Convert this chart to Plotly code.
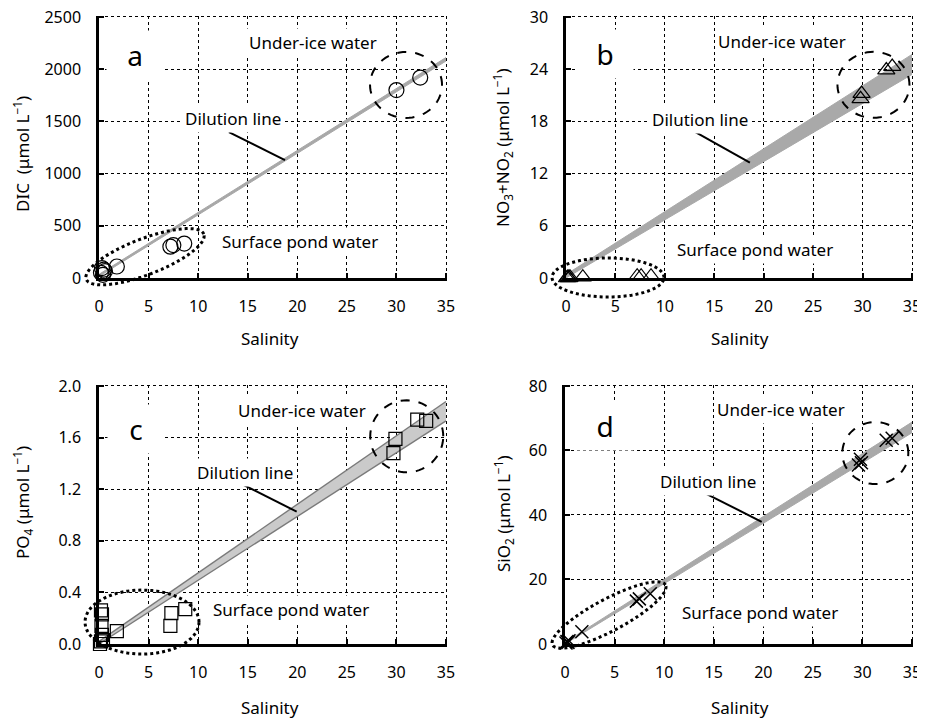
import math
import plotly.graph_objects as go

FONT = "Noto Sans"

# ---------------- data ----------------
salinity_ticks = [0, 5, 10, 15, 20, 25, 30, 35]

# panel a: DIC
a_x = [0.2, 0.3, 0.4, 0.6, 0.5, 1.8, 7.2, 7.5, 8.6, 30.0, 32.4]
a_y = [50, 95, 30, 65, 80, 110, 300, 315, 330, 1800, 1920]
a_dil_x = [0, 35]
a_dil_lo = [15, 2078]
a_dil_hi = [35, 2112]
a_yticks = [0, 500, 1000, 1500, 2000, 2500]

# panel b: NO3+NO2
b_x = [0.1, 0.2, 0.3, 0.4, 1.7, 7.2, 7.6, 8.6, 29.8, 29.9, 32.4, 33.0]
b_y = [0.0, 0.1, 0.0, 0.1, 0.1, 0.2, 0.2, 0.2, 20.6, 21.2, 23.9, 24.3]
b_dil_x = [0, 35]
b_dil_lo = [0.0, 23.4]
b_dil_hi = [0.4, 25.7]
b_yticks = [0, 6, 12, 18, 24, 30]

# panel c: PO4
c_x = [0.2, 0.3, 0.25, 0.3, 0.2, 0.4, 0.1, 1.8, 7.3, 7.2, 8.7, 29.9, 29.7, 32.1, 33.0]
c_y = [0.26, 0.23, 0.14, 0.07, 0.02, 0.03, 0.0, 0.10, 0.24, 0.14, 0.27, 1.59, 1.48, 1.74, 1.73]
c_dil_x = [0, 35]
c_dil_lo = [0.0, 1.73]
c_dil_hi = [0.02, 1.88]
c_yticks = [0.0, 0.4, 0.8, 1.2, 1.6, 2.0]
c_yticklabels = ["0.0", "0.4", "0.8", "1.2", "1.6", "2.0"]

# panel d: SiO2
d_x = [0.1, 0.2, 0.3, 0.4, 1.7, 7.2, 7.5, 8.6, 29.6, 29.8, 29.9, 32.4, 33.0]
d_y = [0.3, 0.8, 0.5, 1.0, 3.8, 13.3, 14.0, 15.6, 55.5, 57.3, 56.2, 63.2, 63.8]
d_dil_x = [0, 35]
d_dil_lo = [0.0, 65.5]
d_dil_hi = [0.5, 68.8]
d_yticks = [0, 20, 40, 60, 80]

# page offset (browser body margin) and figure size
OFF = 8
W, H = 925 - OFF, 719 - OFF
PAD = 1.004  # tiny headroom so the top grid line is kept
# panel pixel boxes in window pixels (left, right, top, bottom) for range [0, max]
boxes = {
    "a": (99, 446, 17, 278),
    "b": (566, 912, 17, 278),
    "c": (99, 446, 386, 644),
    "d": (565, 912, 386, 644),
}
yranges = {"a": (0, 2500), "b": (0, 30), "c": (0, 2.0), "d": (0, 80)}

def px2paper(xp, yp):
    return (xp - OFF) / W, 1 - (yp - OFF) / H

fig = go.Figure()
axis_ids = {"a": ("x", "y"), "b": ("x2", "y2"), "c": ("x3", "y3"), "d": ("x4", "y4")}

def add_band(p, xs, lo, hi, fill, edge, ew):
    xa, ya = axis_ids[p]
    fig.add_trace(go.Scatter(x=xs, y=lo, mode="lines", line=dict(color=edge, width=ew),
                             xaxis=xa, yaxis=ya, showlegend=False, hoverinfo="skip"))
    fig.add_trace(go.Scatter(x=xs, y=hi, mode="lines", line=dict(color=edge, width=ew),
                             fill="tonexty", fillcolor=fill,
                             xaxis=xa, yaxis=ya, showlegend=False, hoverinfo="skip"))

add_band("a", a_dil_x, a_dil_lo, a_dil_hi, "#a8a8a8", "#a8a8a8", 1)
add_band("b", b_dil_x, b_dil_lo, b_dil_hi, "#a9a9a9", "#a9a9a9", 1)
add_band("c", c_dil_x, c_dil_lo, c_dil_hi, "#cacaca", "#7a7a7a", 1.4)
add_band("d", d_dil_x, d_dil_lo, d_dil_hi, "#a9a9a9", "#a9a9a9", 1)

def add_points(p, xs, ys, symbol, size, lw):
    xa, ya = axis_ids[p]
    fig.add_trace(go.Scatter(x=xs, y=ys, mode="markers",
                             marker=dict(symbol=symbol, size=size, color="black",
                                         line=dict(color="black", width=lw)),
                             cliponaxis=False, xaxis=xa, yaxis=ya, showlegend=False))

add_points("a", a_x, a_y, "circle-open", 15, 1.2)
add_points("b", b_x, b_y, "triangle-up-open", 15, 1.2)
add_points("c", c_x, c_y, "square-open", 13, 1.2)
add_points("d", d_x, d_y, "x-thin-open", 13, 1.5)

# ---------------- axes ----------------
layout = dict(width=W, height=H, margin=dict(l=0, r=0, t=0, b=0),
              plot_bgcolor="white", paper_bgcolor="white",
              font=dict(family=FONT, size=16, color="black"))
yticks = {"a": (a_yticks, [str(v) for v in a_yticks]),
          "b": (b_yticks, [str(v) for v in b_yticks]),
          "c": (c_yticks, c_yticklabels),
          "d": (d_yticks, [str(v) for v in d_yticks])}
for p, (l, r, t, b) in boxes.items():
    xa, ya = axis_ids[p]
    xk = "xaxis" + xa[1:]
    yk = "yaxis" + ya[1:]
    top_px = b - (b - t) * PAD
    right_px = l + (r - l) * PAD
    x0p, y0p = px2paper(l, b)
    x1p, y1p = px2paper(right_px, top_px)
    y_lo, y_hi = yranges[p]
    layout[xk] = dict(domain=[x0p, x1p], range=[0, 35 * PAD], anchor=ya, automargin=False,
                      tickvals=salinity_ticks, ticks="inside", ticklen=5, tickwidth=2,
                      tickcolor="black", showline=True, linecolor="black", linewidth=2.5,
                      showgrid=True, gridcolor="black", gridwidth=1, griddash="dot",
                      zeroline=False, ticklabelstandoff=12, ticklabeloverflow="allow",
                      tickfont=dict(size=16))
    tv, tt = yticks[p]
    layout[yk] = dict(domain=[y0p, y1p], range=[y_lo, y_lo + (y_hi - y_lo) * PAD], anchor=xa,
                      automargin=False,
                      tickvals=tv, ticktext=tt, ticks="inside", ticklen=5, tickwidth=2,
                      tickcolor="black", showline=True, linecolor="black", linewidth=2.5,
                      showgrid=True, gridcolor="black", gridwidth=1, griddash="dot",
                      zeroline=False, ticklabelstandoff=12, ticklabeloverflow="allow",
                      tickfont=dict(size=16))
fig.update_layout(**layout)

shapes = []
annotations = []

def scale(p):
    l, r, t, b = boxes[p]
    y0, y1 = yranges[p]
    return (r - l) / 35.0, (b - t) / (y1 - y0)

def data2px(p, x, y):
    l, r, t, b = boxes[p]
    sx, sy = scale(p)
    return l + x * sx, b - (y - yranges[p][0]) * sy

def ellipse(p, cx, cy, a_px, b_px, ang, dash, width):
    # drawn in paper coordinates so that it is not clipped by the plot area
    pcx, pcy = data2px(p, cx, cy)
    th = math.radians(ang)
    pts = []
    for i in range(73):
        tt = 2 * math.pi * i / 72
        dx = a_px * math.cos(tt) * math.cos(th) - b_px * math.sin(tt) * math.sin(th)
        dy = a_px * math.cos(tt) * math.sin(th) + b_px * math.sin(tt) * math.cos(th)
        pts.append(px2paper(pcx + dx, pcy - dy))
    path = "M " + " L ".join(f"{x:.5f},{y:.5f}" for x, y in pts) + " Z"
    shapes.append(dict(type="path", path=path, xref="paper", yref="paper",
                       line=dict(color="black", width=width, dash=dash)))

def leader(p, x0, y0, x1, y1):
    xa, ya = axis_ids[p]
    shapes.append(dict(type="line", x0=x0, y0=y0, x1=x1, y1=y1, xref=xa, yref=ya,
                       line=dict(color="black", width=2)))

def label(p, text, x, y, size=17, w=None, h=None):
    xp, yp = px2paper(*data2px(p, x, y))
    d = dict(text=text, x=xp, y=yp, xref="paper", yref="paper", showarrow=False,
             xanchor="center", yanchor="middle",
             font=dict(size=size, family=FONT, color="black"), bgcolor="white", borderpad=2)
    if w:
        d["width"] = w
    if h:
        d["height"] = h
    annotations.append(d)

# panel a
ellipse("a", 4.64, 204, 63, 18, 21, "dot", 3)
ellipse("a", 30.97, 1849, 36, 33, 0, "dash", 2)
label("a", "Under-ice water", 21.6, 2254)
label("a", "Dilution line", 13.5, 1523)
label("a", "Surface pond water", 20.3, 348)
label("a", "a", 3.6, 2136, size=28, w=52, h=44)
leader("a", 13.1, 1398, 18.76, 1130)
# panel b
ellipse("b", 4.25, 0.06, 56, 19.5, 0, "dot", 3)
ellipse("b", 31.1, 22.2, 36, 33, 0, "dash", 2)
label("b", "Under-ice water", 21.9, 27.2)
label("b", "Dilution line", 13.55, 18.24)
label("b", "Surface pond water", 19.1, 3.3)
label("b", "b", 3.95, 25.8, size=28, w=52, h=44)
leader("b", 13.05, 16.8, 18.6, 13.25)
# panel c
ellipse("c", 4.34, 0.17, 57, 32, 0, "dot", 3)
ellipse("c", 31.04, 1.61, 36.5, 36, 0, "dash", 2)
label("c", "Under-ice water", 20.45, 1.81)
label("c", "Dilution line", 14.7, 1.33)
label("c", "Surface pond water", 19.4, 0.27)
label("c", "c", 3.73, 1.67, size=28, w=52, h=44)
leader("c", 14.4, 1.24, 19.94, 1.026)
# panel d
ellipse("d", 4.44, 9.0, 64, 16, 28, "dot", 3)
ellipse("d", 31.3, 59.2, 33, 31, 0, "dash", 2)
label("d", "Under-ice water", 21.8, 72.6)
label("d", "Dilution line", 14.45, 50.3)
label("d", "Surface pond water", 19.7, 9.7)
label("d", "d", 4.03, 67.6, size=28, w=52, h=44)
leader("d", 14.3, 46.5, 19.84, 37.9)

# axis titles
def paper_text(text, xpx, ypx, angle=0, size=17):
    xp, yp = px2paper(xpx, ypx)
    annotations.append(dict(text=text, x=xp, y=yp, xref="paper", yref="paper",
                            showarrow=False, textangle=angle,
                            font=dict(size=size, family=FONT, color="black"),
                            xanchor="center", yanchor="middle"))

paper_text("Salinity", 270, 338)
paper_text("Salinity", 740, 338)
paper_text("Salinity", 270, 707)
paper_text("Salinity", 740, 707)
paper_text("DIC  (μmol L<sup>−1</sup>)", 22, 154, -90)
paper_text("NO<sub>3</sub>+NO<sub>2</sub> (μmol L<sup>−1</sup>)", 503, 148, -90)
paper_text("PO<sub>4</sub> (μmol L<sup>−1</sup>)", 22, 503, -90)
paper_text("SiO<sub>2</sub> (μmol L<sup>−1</sup>)", 503, 514, -90)

fig.update_layout(shapes=shapes, annotations=annotations)
fig.write_html("out.html")
